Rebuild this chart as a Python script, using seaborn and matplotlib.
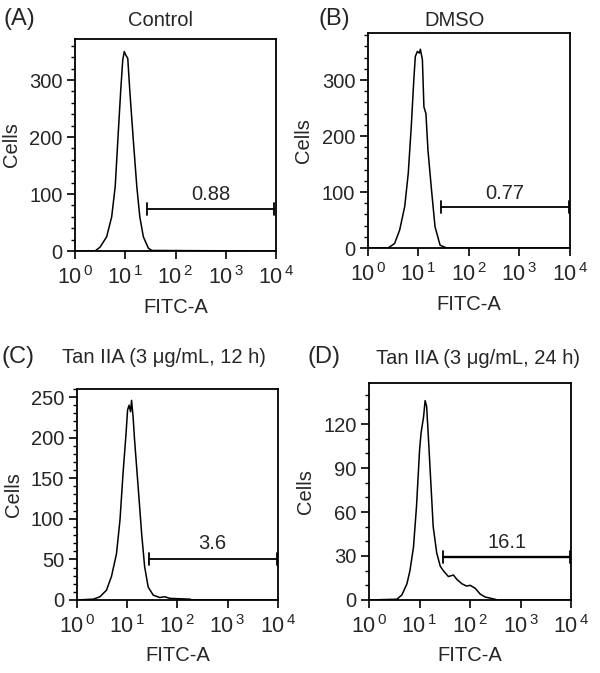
import numpy as np
import pandas as pd
import seaborn as sns
import matplotlib.pyplot as plt
from matplotlib.ticker import FixedLocator, LogLocator, MultipleLocator, NullFormatter

# histogram traces, x in log10(FITC-A), y in cell counts
ctrl_x = [0.0, 0.40, 0.50, 0.63, 0.73, 0.80, 0.86, 0.91, 0.95, 0.98, 1.01, 1.05, 1.09, 1.16, 1.23, 1.29, 1.36, 1.46, 1.53, 4.0]
ctrl_y = [0, 0, 7, 25, 60, 113, 206, 282, 335, 350, 344, 338, 282, 195, 113, 60, 25, 5, 1, 0]

dmso_x = [0.0, 0.40, 0.53, 0.63, 0.73, 0.80, 0.86, 0.91, 0.94, 0.98, 1.02, 1.04, 1.08, 1.11, 1.15, 1.19, 1.26, 1.33, 1.43, 1.56, 4.0]
dmso_y = [0, 0, 8, 32, 74, 133, 217, 300, 342, 351, 348, 355, 336, 252, 240, 175, 104, 38, 5, 0, 0]

tan12_x = [0.0, 0.33, 0.46, 0.59, 0.69, 0.79, 0.86, 0.92, 0.98, 1.01, 1.04, 1.07, 1.09, 1.12, 1.15, 1.22, 1.29, 1.35, 1.42, 1.52, 1.65, 1.75, 1.85, 2.05, 2.25, 2.30, 4.0]
tan12_y = [0, 1, 4, 12, 29, 57, 99, 156, 205, 234, 240, 232, 246, 226, 197, 140, 82, 41, 16, 6, 3, 4, 2, 1.5, 1, 0, 0]

tan24_x = [0.0, 0.55, 0.65, 0.75, 0.81, 0.88, 0.94, 1.00, 1.03, 1.08, 1.11, 1.14, 1.17, 1.22, 1.27, 1.34, 1.41, 1.47, 1.57, 1.67, 1.74, 1.84, 1.93, 2.00, 2.10, 2.20, 2.30, 2.43, 2.55, 4.0]
tan24_y = [0, 0.5, 3.4, 11, 20, 36, 64, 102, 114, 125, 136, 132, 114, 82, 50, 32, 23, 20, 16, 17, 14, 11, 9.5, 10, 8, 4, 2, 1, 0, 0]

letters = ['(A)', '(B)', '(C)', '(D)']
titles = ['Control', 'DMSO', 'Tan IIA (3 μg/mL, 12 h)', 'Tan IIA (3 μg/mL, 24 h)']
gate_pct = ['0.88', '0.77', '3.6', '16.1']
gate_lo = [1.43, 1.45, 1.43, 1.47]   # log10 start of M1 gate
gate_hi = [3.97, 3.98, 3.98, 3.98]
gate_y = [74, 73, 50.5, 29.3]
label_y = [100, 98, 70, 39.5]
y_max = [372, 384, 260, 148]
y_major = [100, 100, 50, 30]
y_minor = [20, 20, 10, 10]

traces = [(ctrl_x, ctrl_y), (dmso_x, dmso_y), (tan12_x, tan12_y), (tan24_x, tan24_y)]

sns.set_style('ticks')
plt.rcParams['font.family'] = ['Liberation Sans', 'DejaVu Sans']
plt.rcParams['mathtext.default'] = 'regular'
plt.rcParams['axes.linewidth'] = 1.3

fig = plt.figure(figsize=(6, 6.73), dpi=100)
boxes = [[0.125, 0.627, 0.335, 0.315],
         [0.613, 0.6315, 0.337, 0.3195],
         [0.128, 0.1085, 0.335, 0.3135],
         [0.615, 0.1085, 0.337, 0.3224]]
letter_pos = [(0.006, 0.972), (0.530, 0.972), (0.002, 0.470), (0.513, 0.470)]
title_pos = [(0.267, 0.970), (0.758, 0.970), (0.273, 0.469), (0.797, 0.468)]
fs = 14.5

for i in range(4):
    ax = fig.add_axes(boxes[i])
    df = pd.DataFrame({'fitc': 10 ** np.array(traces[i][0]), 'cells': traces[i][1]})
    sns.lineplot(data=df, x='fitc', y='cells', ax=ax, color='black', lw=1.1, sort=False)
    ax.set_xscale('log')
    ax.set_xlim(1, 1e4)
    ax.set_ylim(0, y_max[i])
    ax.xaxis.set_major_locator(FixedLocator([1, 10, 100, 1000, 10000]))
    ax.set_xticklabels(['10$^{\\,%d}$' % k for k in range(5)])
    ax.xaxis.set_minor_locator(LogLocator(base=10, subs=np.arange(2, 10)))
    ax.xaxis.set_minor_formatter(NullFormatter())
    ax.yaxis.set_major_locator(MultipleLocator(y_major[i]))
    ax.yaxis.set_minor_locator(MultipleLocator(y_minor[i]))
    ax.tick_params(which='major', length=6, width=1.2, labelsize=fs, color='black', direction='out')
    ax.tick_params(which='minor', length=3, width=1.0, color='black', direction='out')
    ax.tick_params(axis='x', which='major', labelsize=fs + 1, pad=5)
    ax.tick_params(axis='y', which='major', pad=3)
    ax.set_xlabel('FITC-A', fontsize=fs, labelpad=6)
    ax.set_ylabel('Cells', fontsize=fs, labelpad=6)
    for s in ax.spines.values():
        s.set_color('black')

    # gate bar with end caps
    lo, hi = 10 ** gate_lo[i], 10 ** gate_hi[i]
    ax.plot([lo, hi], [gate_y[i], gate_y[i]], color='black', lw=1.7 if i == 3 else 1.3)
    cap = y_max[i] * 0.028
    for xx in (lo, hi):
        ax.plot([xx, xx], [gate_y[i] - cap, gate_y[i] + cap], color='black', lw=1.3)
    ax.text(10 ** ((gate_lo[i] + gate_hi[i]) / 2), label_y[i], gate_pct[i],
            ha='center', va='center', fontsize=fs)

    fig.text(letter_pos[i][0], letter_pos[i][1], letters[i], fontsize=17, ha='left', va='center')
    fig.text(title_pos[i][0], title_pos[i][1], titles[i], fontsize=fs, ha='center', va='center')

fig.savefig('out.png', dpi=100, facecolor='white')
